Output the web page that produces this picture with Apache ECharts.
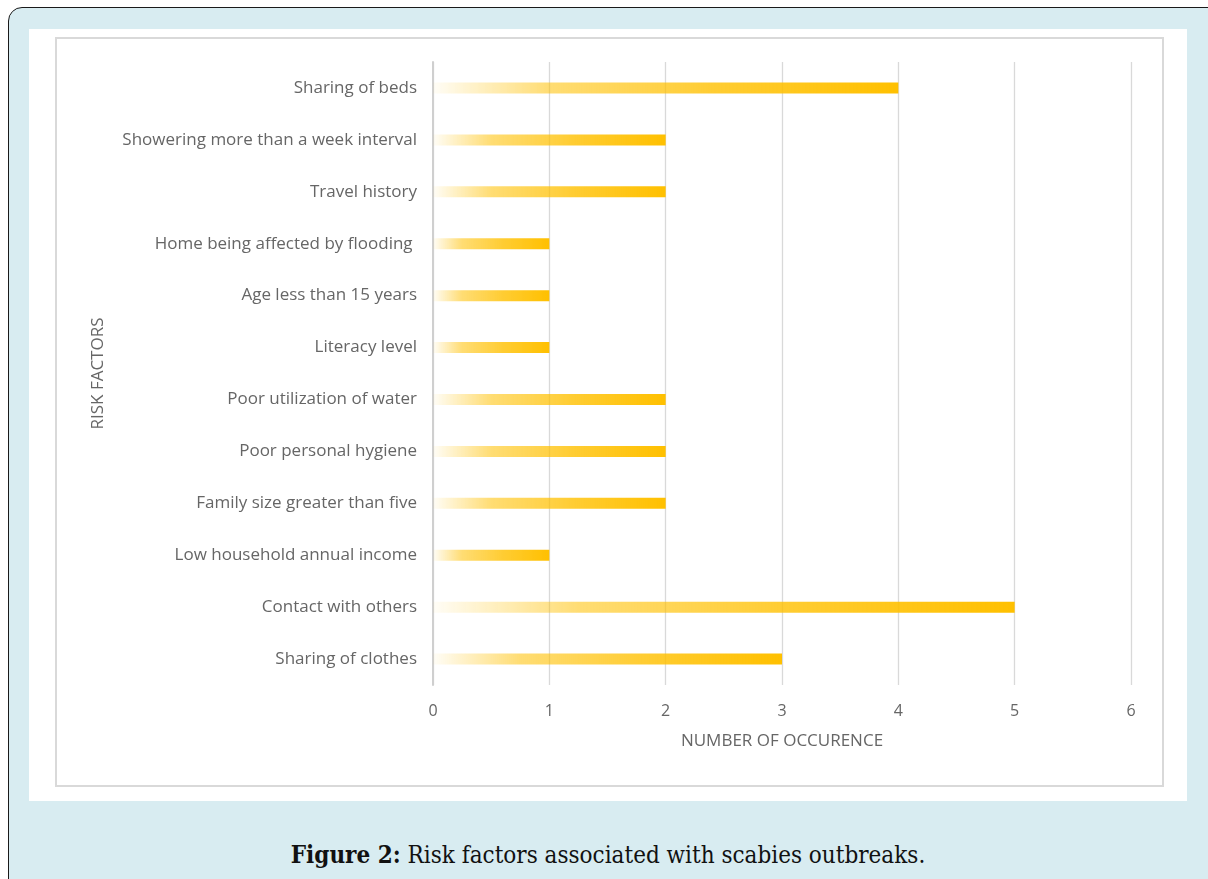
<!DOCTYPE html>
<html>
<head>
<meta charset="utf-8">
<script src="https://cdn.jsdelivr.net/npm/echarts@6/dist/echarts.min.js"></script>
<style>
  html, body { margin: 0; padding: 0; background: #ffffff; width: 1208px; height: 879px; overflow: hidden; }
  #frame {
    position: absolute; left: 8px; top: 7px; width: 1240px; height: 920px;
    background: #d8ecf1; border: 1px solid #1a1a1a; border-radius: 14px; box-sizing: border-box;
  }
  #panel { position: absolute; left: 29px; top: 29px; width: 1158px; height: 772px; background: #ffffff; }
  #chart { position: absolute; left: 0; top: 0; width: 1158px; height: 772px; }
  #caption {
    position: absolute; left: 0; width: 1216px; top: 838px; text-align: center; line-height: 34px;
    font-family: "DejaVu Serif Condensed", "DejaVu Serif", serif; font-stretch: condensed;
    font-size: 24px; color: #111;
  }
</style>
</head>
<body>
<div id="frame"></div>
<div id="panel"><div id="chart"></div></div>
<div id="caption"><b>Figure 2:</b> Risk factors associated with scabies outbreaks.</div>
<script>
  // Risk factors, listed top to bottom
  const riskFactors = [
    'Sharing of beds',
    'Showering more than a week interval',
    'Travel history',
    'Home being affected by flooding ',
    'Age less than 15 years',
    'Literacy level',
    'Poor utilization of water',
    'Poor personal hygiene',
    'Family size greater than five',
    'Low household annual income',
    'Contact with others',
    'Sharing of clothes'
  ];
  // Number of occurrences for each factor
  const occurrences = [4, 2, 2, 1, 1, 1, 2, 2, 2, 1, 5, 3];

  const axisMin = 0, axisMax = 6, axisStep = 1;

  const chart = echarts.init(document.getElementById('chart'), null, { renderer: 'canvas' });

  const labelFont = '"Open Sans", "Noto Sans", sans-serif';
  const textColor = '#666666';

  chart.setOption({
    animation: false,
    graphic: [{
      type: 'rect',
      shape: { x: 27, y: 9, width: 1107, height: 748 },
      style: { fill: 'none', stroke: '#d9d9d9', lineWidth: 2 },
      silent: true
    }],
    grid: { left: 404, right: 56, top: 33, bottom: 116, containLabel: false },
    xAxis: {
      type: 'value',
      min: axisMin, max: axisMax, interval: axisStep,
      name: 'NUMBER OF OCCURENCE',
      nameLocation: 'middle',
      nameGap: 48,
      nameTextStyle: { color: textColor, fontSize: 17, fontFamily: labelFont },
      axisLine: { show: false },
      axisTick: { show: false },
      axisLabel: { color: textColor, fontSize: 16, fontFamily: labelFont, margin: 18 },
      splitLine: { show: true, lineStyle: { color: '#d9d9d9', width: 1.3 } }
    },
    yAxis: {
      type: 'category',
      data: riskFactors,
      inverse: true,
      name: 'RISK FACTORS',
      nameLocation: 'middle',
      nameGap: 326,
      nameTextStyle: { color: textColor, fontSize: 17, fontFamily: labelFont },
      axisLine: { show: true, lineStyle: { color: '#cfcfcf', width: 2 } },
      axisTick: { show: false },
      axisLabel: { color: textColor, fontSize: 17, fontFamily: labelFont, margin: 16 },
      splitLine: { show: false }
    },
    series: [{
      type: 'bar',
      data: occurrences,
      barWidth: 11,
      itemStyle: {
        color: new echarts.graphic.LinearGradient(0, 0, 1, 0, [
          { offset: 0, color: 'rgba(255,192,0,0.03)' },
          { offset: 0.25, color: 'rgba(255,192,0,0.55)' },
          { offset: 0.6, color: 'rgba(255,192,0,0.8)' },
          { offset: 1, color: 'rgba(255,192,0,1)' }
        ])
      }
    }]
  });
</script>
</body>
</html>
